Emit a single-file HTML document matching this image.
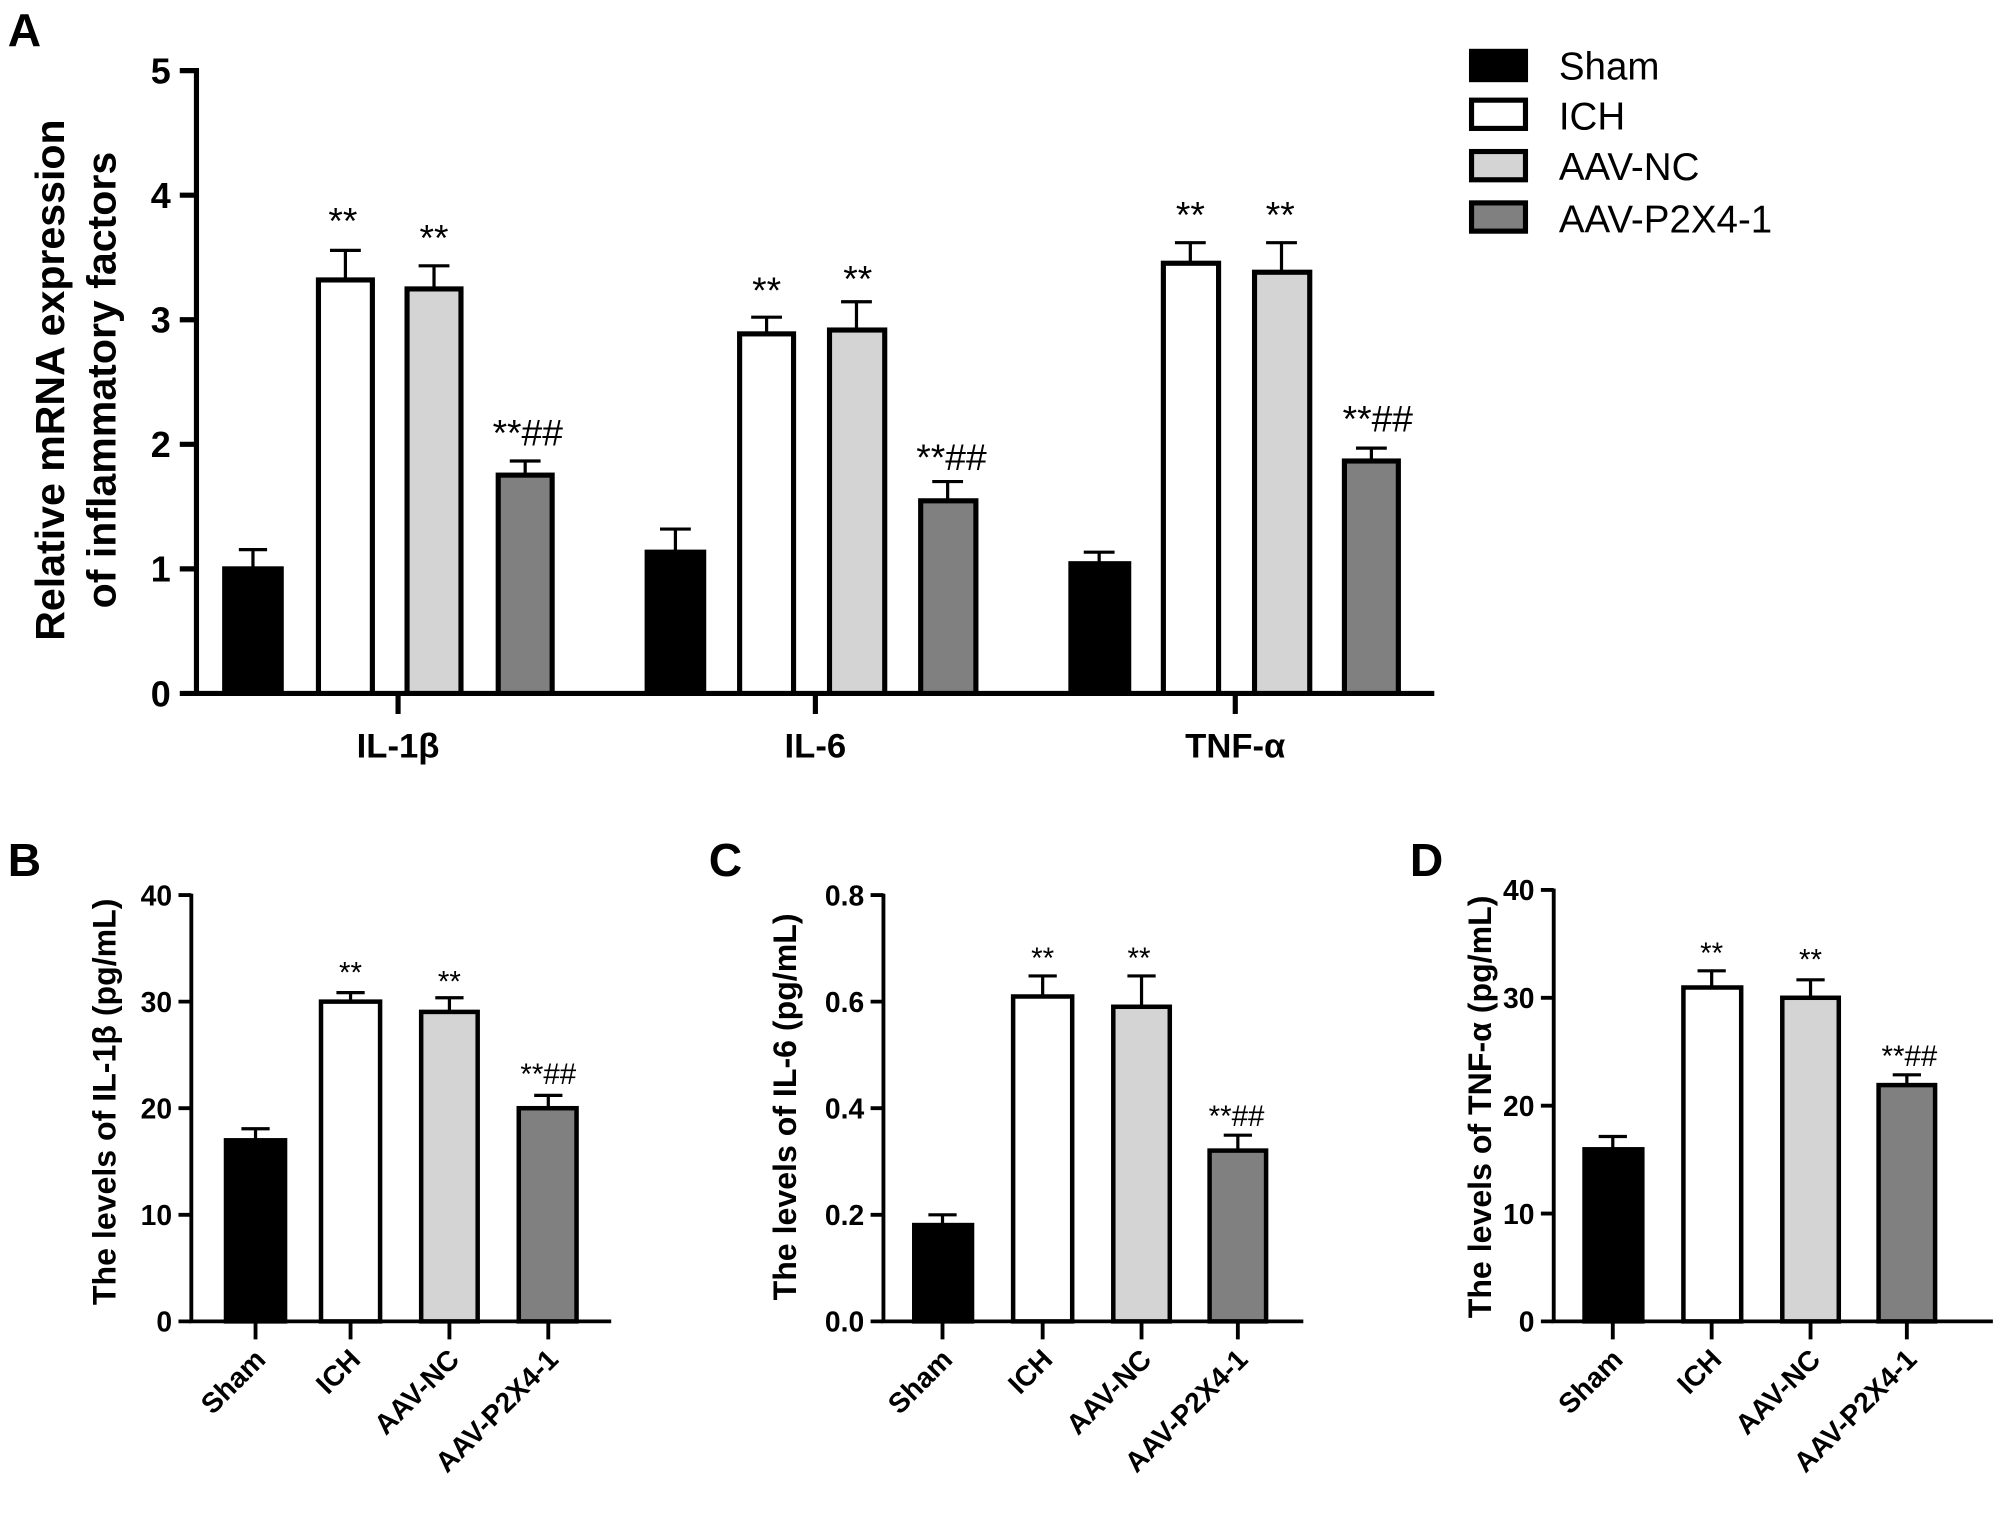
<!DOCTYPE html>
<html><head><meta charset="utf-8"><style>html,body{margin:0;padding:0;background:#fff}svg{display:block}text{font-family:"Liberation Sans",Arial,sans-serif}</style></head>
<body>
<svg width="2007" height="1514" viewBox="0 0 1563 1179" preserveAspectRatio="none" xmlns="http://www.w3.org/2000/svg">
<rect width="1563" height="1179" fill="#fff"/>
<!-- Panel A -->
<text x="6" y="36" font-size="36" font-weight="bold">A</text>
<g stroke="#000" stroke-width="4" fill="none">
<line x1="153" y1="53" x2="153" y2="542"/>
<line x1="151" y1="540" x2="1117" y2="540"/>
<line x1="140" y1="55" x2="153" y2="55"/><line x1="140" y1="152" x2="153" y2="152"/><line x1="140" y1="249" x2="153" y2="249"/><line x1="140" y1="346" x2="153" y2="346"/><line x1="140" y1="443" x2="153" y2="443"/><line x1="140" y1="540" x2="153" y2="540"/>
<line x1="310" y1="540" x2="310" y2="556"/><line x1="635" y1="540" x2="635" y2="556"/><line x1="962" y1="540" x2="962" y2="556"/>
</g>
<g font-size="28" font-weight="bold" text-anchor="end">
<text x="133" y="65">5</text><text x="133" y="162">4</text><text x="133" y="259">3</text><text x="133" y="356">2</text><text x="133" y="453">1</text><text x="133" y="550">0</text>
</g>
<g font-size="27" font-weight="bold" text-anchor="middle">
<text x="310" y="590">IL-1β</text><text x="635" y="590">IL-6</text><text x="962" y="590">TNF-α</text>
</g>
<g font-size="32" font-weight="bold" text-anchor="middle">
<text transform="translate(50,296) rotate(-90)">Relative mRNA expression</text>
<text transform="translate(90,296) rotate(-90)">of inflammatory  factors</text>
</g>
<g stroke="#000" stroke-width="4">
<rect x="175" y="443" width="44" height="97" fill="#000"/>
<rect x="248" y="218" width="42" height="322" fill="#fff"/>
<rect x="317" y="225" width="42" height="315" fill="#d4d4d4"/>
<rect x="388" y="370" width="42" height="170" fill="#808080"/>
<rect x="504" y="430" width="44" height="110" fill="#000"/>
<rect x="576" y="260" width="42" height="280" fill="#fff"/>
<rect x="646" y="257" width="43" height="283" fill="#d4d4d4"/>
<rect x="717" y="390" width="43" height="150" fill="#808080"/>
<rect x="834" y="439" width="45" height="101" fill="#000"/>
<rect x="906" y="205" width="43" height="335" fill="#fff"/>
<rect x="977" y="212" width="43" height="328" fill="#d4d4d4"/>
<rect x="1047" y="359" width="42" height="181" fill="#808080"/>
</g>
<g stroke="#000" stroke-width="2.5" fill="none">
<path d="M197 443V428M186 428H208"/><path d="M269 218V195M257 195H281"/><path d="M338 225V207M326 207H350"/><path d="M409 370V359M397 359H421"/>
<path d="M526 430V412M514 412H538"/><path d="M597 260V247M585 247H609"/><path d="M667 257V235M655 235H679"/><path d="M738 390V375M726 375H750"/>
<path d="M856 439V430M844 430H868"/><path d="M927 205V189M915 189H939"/><path d="M998 212V189M986 189H1010"/><path d="M1068 359V349M1056 349H1080"/>
</g>
<g font-size="29" text-anchor="middle">
<text x="267" y="182">**</text><text x="338" y="195">**</text><text x="411" y="347">**##</text>
<text x="597" y="236">**</text><text x="668" y="227">**</text><text x="741" y="366">**##</text>
<text x="927" y="177">**</text><text x="997" y="177">**</text><text x="1073" y="336">**##</text>
</g>
<!-- Legend -->
<g stroke="#000" stroke-width="4">
<rect x="1146" y="40" width="42" height="22" fill="#000"/>
<rect x="1146" y="78" width="42" height="22" fill="#fff"/>
<rect x="1146" y="118" width="42" height="22" fill="#d4d4d4"/>
<rect x="1146" y="158" width="42" height="22" fill="#808080"/>
</g>
<g font-size="30">
<text x="1214" y="62">Sham</text><text x="1214" y="101">ICH</text><text x="1214" y="140">AAV-NC</text><text x="1214" y="181">AAV-P2X4-1</text>
</g>
<!-- Panel labels -->
<g font-size="36" font-weight="bold"><text x="6" y="682">B</text><text x="552" y="682">C</text><text x="1098" y="682">D</text></g>
<!-- Panel B -->
<g stroke="#000" stroke-width="3" fill="none">
<line x1="149" y1="696" x2="149" y2="1030"/><line x1="147" y1="1029" x2="476" y2="1029"/>
<path d="M139 697H149M139 780H149M139 863H149M139 946H149M139 1029H149"/>
<path d="M199 1029V1043M273 1029V1043M350 1029V1043M427 1029V1043"/>
</g>
<g font-size="22" font-weight="bold" text-anchor="end"><text x="134" y="705">40</text><text x="134" y="788">30</text><text x="134" y="871">20</text><text x="134" y="954">10</text><text x="134" y="1037">0</text></g>
<text transform="translate(90,858) rotate(-90)" font-size="25" font-weight="bold" text-anchor="middle">The levels of IL-1β (pg/mL)</text>
<g stroke="#000" stroke-width="3.5">
<rect x="176" y="888" width="46" height="141" fill="#000"/>
<rect x="250" y="780" width="46" height="249" fill="#fff"/>
<rect x="328" y="788" width="44" height="241" fill="#d4d4d4"/>
<rect x="404" y="863" width="45" height="166" fill="#808080"/>
</g>
<g stroke="#000" stroke-width="2.5" fill="none"><path d="M199 888V879M188 879H210M273 780V773M262 773H284M350 788V777M339 777H361M427 863V853M416 853H438"/></g>
<g font-size="23" text-anchor="middle"><text x="273" y="765">**</text><text x="350" y="772">**</text><text x="427" y="844">**##</text></g>
<g font-size="22" font-weight="bold" text-anchor="end">
<text transform="translate(208,1060) rotate(-45)">Sham</text><text transform="translate(282,1060) rotate(-45)">ICH</text><text transform="translate(359,1060) rotate(-45)">AAV-NC</text><text transform="translate(436,1060) rotate(-45)">AAV-P2X4-1</text>
</g>
<!-- Panel C -->
<g stroke="#000" stroke-width="3" fill="none">
<line x1="688" y1="696" x2="688" y2="1030"/><line x1="686" y1="1029" x2="1015" y2="1029"/>
<path d="M678 697H688M678 780H688M678 863H688M678 946H688M678 1029H688"/>
<path d="M734 1029V1043M812 1029V1043M889 1029V1043M964 1029V1043"/>
</g>
<g font-size="22" font-weight="bold" text-anchor="end"><text x="673" y="705">0.8</text><text x="673" y="788">0.6</text><text x="673" y="871">0.4</text><text x="673" y="954">0.2</text><text x="673" y="1037">0.0</text></g>
<text transform="translate(620,862) rotate(-90)" font-size="25" font-weight="bold" text-anchor="middle">The levels of IL-6 (pg/mL)</text>
<g stroke="#000" stroke-width="3.5">
<rect x="712" y="954" width="45" height="75" fill="#000"/>
<rect x="789" y="776" width="46" height="253" fill="#fff"/>
<rect x="867" y="784" width="44" height="245" fill="#d4d4d4"/>
<rect x="942" y="896" width="44" height="133" fill="#808080"/>
</g>
<g stroke="#000" stroke-width="2.5" fill="none"><path d="M734 954V946M723 946H745M812 776V760M801 760H823M889 784V760M878 760H900M964 896V884M953 884H975"/></g>
<g font-size="23" text-anchor="middle"><text x="812" y="754">**</text><text x="887" y="754">**</text><text x="963" y="877">**##</text></g>
<g font-size="22" font-weight="bold" text-anchor="end">
<text transform="translate(743,1060) rotate(-45)">Sham</text><text transform="translate(821,1060) rotate(-45)">ICH</text><text transform="translate(898,1060) rotate(-45)">AAV-NC</text><text transform="translate(973,1060) rotate(-45)">AAV-P2X4-1</text>
</g>
<!-- Panel D -->
<g stroke="#000" stroke-width="3" fill="none">
<line x1="1210" y1="692" x2="1210" y2="1030"/><line x1="1208" y1="1029" x2="1552" y2="1029"/>
<path d="M1200 693H1210M1200 777H1210M1200 861H1210M1200 945H1210M1200 1029H1210"/>
<path d="M1256 1029V1043M1333 1029V1043M1410 1029V1043M1485 1029V1043"/>
</g>
<g font-size="22" font-weight="bold" text-anchor="end"><text x="1195" y="701">40</text><text x="1195" y="785">30</text><text x="1195" y="869">20</text><text x="1195" y="953">10</text><text x="1195" y="1037">0</text></g>
<text transform="translate(1161,862) rotate(-90)" font-size="25" font-weight="bold" text-anchor="middle">The levels of TNF-α (pg/mL)</text>
<g stroke="#000" stroke-width="3.5">
<rect x="1234" y="895" width="45" height="134" fill="#000"/>
<rect x="1311" y="769" width="45" height="260" fill="#fff"/>
<rect x="1388" y="777" width="44" height="252" fill="#d4d4d4"/>
<rect x="1463" y="845" width="44" height="184" fill="#808080"/>
</g>
<g stroke="#000" stroke-width="2.5" fill="none"><path d="M1256 895V885M1245 885H1267M1333 769V756M1322 756H1344M1410 777V763M1399 763H1421M1485 845V837M1474 837H1496"/></g>
<g font-size="23" text-anchor="middle"><text x="1333" y="750">**</text><text x="1410" y="755">**</text><text x="1487" y="830">**##</text></g>
<g font-size="22" font-weight="bold" text-anchor="end">
<text transform="translate(1265,1060) rotate(-45)">Sham</text><text transform="translate(1342,1060) rotate(-45)">ICH</text><text transform="translate(1419,1060) rotate(-45)">AAV-NC</text><text transform="translate(1494,1060) rotate(-45)">AAV-P2X4-1</text>
</g>
</svg>
</body></html>
